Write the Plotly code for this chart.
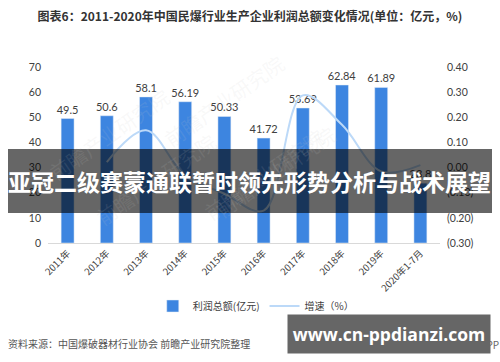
import plotly.graph_objects as go

categories = ["2011年", "2012年", "2013年", "2014年", "2015年", "2016年",
              "2017年", "2018年", "2019年", "2020年1-7月"]
profit = [49.5, 50.6, 58.1, 56.19, 50.33, 41.72, 53.69, 62.84, 61.89, 23.8]
growth = [None, 0.022, 0.148, -0.033, -0.104, -0.171, 0.287, 0.170, -0.015, 0.01]

left_ticks = [0, 10, 20, 30, 40, 50, 60, 70]
right_ticks = [-0.3, -0.2, -0.1, 0.0, 0.1, 0.2, 0.3, 0.4]
right_ticktext = ["(0.30)", "(0.20)", "(0.10)", "0.00", "0.10", "0.20", "0.30", "0.40"]

FONT = "Lato, Noto Sans CJK SC, sans-serif"
CJK = "Noto Sans CJK SC, sans-serif"

fig = go.Figure()
fig.add_trace(go.Bar(
    x=categories, y=profit, name="利润总额(亿元)",
    marker=dict(color="#3d85e0"),
    text=[str(v) for v in profit], textposition="outside",
    textfont=dict(size=11, color="#404040", family=FONT),
    constraintext="none", cliponaxis=False,
))
fig.add_trace(go.Scatter(
    x=categories, y=growth, name="增速（%）", yaxis="y2",
    mode="lines", line=dict(color="#bcd9f8", width=2, shape="spline", smoothing=1.0),
    connectgaps=False,
))

fig.update_layout(
    width=500, height=362,
    margin=dict(l=48, r=60, t=67, b=119),
    paper_bgcolor="white", plot_bgcolor="white",
    bargap=0.67,
    showlegend=True,
    legend=dict(orientation="h", x=0.53, xanchor="center", y=-0.358, yanchor="middle",
                font=dict(size=10, color="#404040", family=CJK), itemwidth=30,
                bgcolor="rgba(0,0,0,0)"),
    title=dict(text="<b>图表6：2011-2020年中国民爆行业生产企业利润总额变化情况(单位：亿元，%)</b>",
               x=0.5, xanchor="center", y=1 - 17 / 362, yanchor="middle",
               font=dict(size=12, color="#333333", family=CJK)),
    xaxis=dict(tickangle=-45, showgrid=False, showline=True, linecolor="#d9d9d9", linewidth=1,
               ticks="", tickfont=dict(size=9.5, color="#404040", family=CJK)),
    yaxis=dict(range=[0, 70], tickvals=left_ticks, showgrid=False, zeroline=False,
               tickfont=dict(size=10.5, color="#404040", family=FONT), ticklabelstandoff=6),
    yaxis2=dict(range=[-0.3, 0.4], overlaying="y", side="right", tickvals=right_ticks,
                ticktext=right_ticktext, showgrid=False, zeroline=False,
                tickfont=dict(size=10.5, color="#404040", family=FONT), ticklabelstandoff=6),
)

# faint watermarks
for (wx, wy) in [(-0.02, 0.93), (0.45, 1.12), (0.58, 0.72), (0.1, 0.05), (0.55, 0.08)]:
    fig.add_annotation(x=wx, y=wy, xref="paper", yref="paper", text="前瞻产业研究院",
                       showarrow=False, textangle=-35,
                       font=dict(size=20, color="rgba(200,200,200,0.12)", family=CJK))

# headline band
fig.add_shape(type="rect", xref="paper", yref="paper",
              x0=(8 - 48) / 392, x1=(492 - 48) / 392,
              y0=(243 - 213) / 176, y1=(243 - 149) / 176,
              fillcolor="rgba(0,0,0,0.6)", line=dict(width=0), layer="above")
fig.add_annotation(x=(250 - 48) / 392, y=(243 - 181) / 176, xref="paper", yref="paper",
                   text="<b>亚冠二级赛蒙通联暂时领先形势分析与战术展望</b>", showarrow=False,
                   font=dict(size=23, color="white", family=CJK))

# source text
fig.add_annotation(x=(6 - 48) / 392, y=(243 - 343) / 176, xref="paper", yref="paper",
                   xanchor="left", yanchor="middle", showarrow=False,
                   text="资料来源：中国爆破器材行业协会 前瞻产业研究院整理",
                   font=dict(size=10, color="#555555", family=CJK))
fig.add_annotation(x=(501 - 48) / 392, y=(243 - 344) / 176, xref="paper", yref="paper",
                   xanchor="right", yanchor="middle", showarrow=False,
                   text="@前瞻经济学人APP",
                   font=dict(size=10, color="#666666", family=CJK))
# site box
fig.add_annotation(x=(389 - 48) / 392, y=(243 - 334) / 176, xref="paper", yref="paper",
                   xanchor="center", yanchor="middle", showarrow=False,
                   width=198, height=34, bgcolor="#666666", borderpad=2,
                   text="<b>www.cn-ppdianzi.com</b>",
                   font=dict(size=17.5, color="white", family="Open Sans, sans-serif"))

fig.write_html("out.html")
